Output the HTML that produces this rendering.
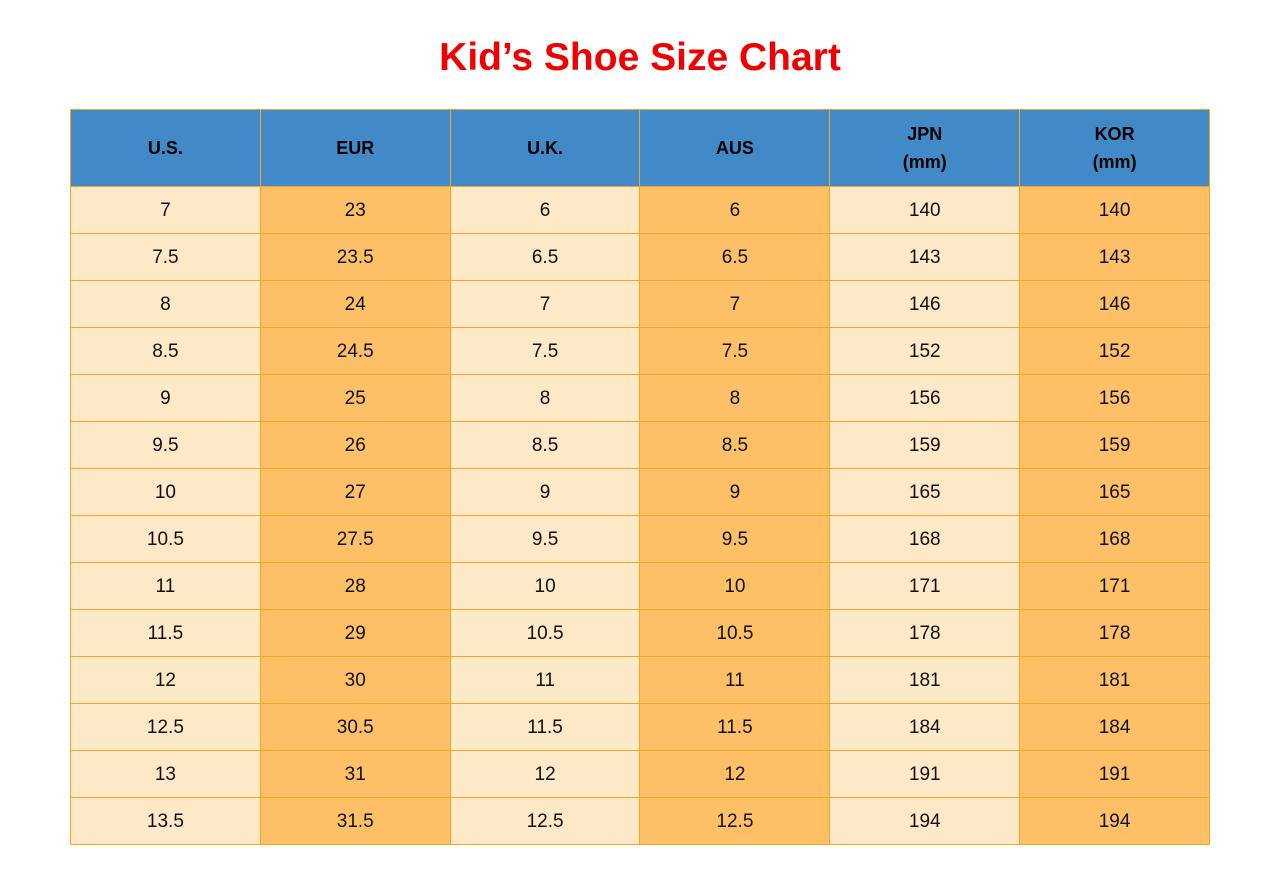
<!DOCTYPE html>
<html><head><style>
body{margin:0;background:#fff;width:1287px;height:874px;font-family:"Liberation Sans",Arial,sans-serif;}
h1{position:absolute;left:0;width:1280px;top:34px;margin:0;text-align:center;color:#f00000;font-size:39px;font-weight:bold;line-height:48px;}
table{position:absolute;left:70px;top:109px;border-collapse:collapse;table-layout:fixed;width:1140px;}
td,th{border:1px solid #f5a623;text-align:center;padding:0;font-size:19px;color:#111;}
th{background:#4189c7;height:76px;font-size:18px;font-weight:bold;line-height:28px;color:#000;}
td{height:44px;padding-top:2px;}
td:nth-child(odd){background:#fde8c8;}
td:nth-child(even){background:#fdc067;}
</style></head><body>
<h1>Kid’s Shoe Size Chart</h1>
<table>
<tr><th>U.S.</th><th>EUR</th><th>U.K.</th><th>AUS</th><th>JPN<br>(mm)</th><th>KOR<br>(mm)</th></tr>
<tr><td>7</td><td>23</td><td>6</td><td>6</td><td>140</td><td>140</td></tr>
<tr><td>7.5</td><td>23.5</td><td>6.5</td><td>6.5</td><td>143</td><td>143</td></tr>
<tr><td>8</td><td>24</td><td>7</td><td>7</td><td>146</td><td>146</td></tr>
<tr><td>8.5</td><td>24.5</td><td>7.5</td><td>7.5</td><td>152</td><td>152</td></tr>
<tr><td>9</td><td>25</td><td>8</td><td>8</td><td>156</td><td>156</td></tr>
<tr><td>9.5</td><td>26</td><td>8.5</td><td>8.5</td><td>159</td><td>159</td></tr>
<tr><td>10</td><td>27</td><td>9</td><td>9</td><td>165</td><td>165</td></tr>
<tr><td>10.5</td><td>27.5</td><td>9.5</td><td>9.5</td><td>168</td><td>168</td></tr>
<tr><td>11</td><td>28</td><td>10</td><td>10</td><td>171</td><td>171</td></tr>
<tr><td>11.5</td><td>29</td><td>10.5</td><td>10.5</td><td>178</td><td>178</td></tr>
<tr><td>12</td><td>30</td><td>11</td><td>11</td><td>181</td><td>181</td></tr>
<tr><td>12.5</td><td>30.5</td><td>11.5</td><td>11.5</td><td>184</td><td>184</td></tr>
<tr><td>13</td><td>31</td><td>12</td><td>12</td><td>191</td><td>191</td></tr>
<tr><td>13.5</td><td>31.5</td><td>12.5</td><td>12.5</td><td>194</td><td>194</td></tr>
</table>
</body></html>
